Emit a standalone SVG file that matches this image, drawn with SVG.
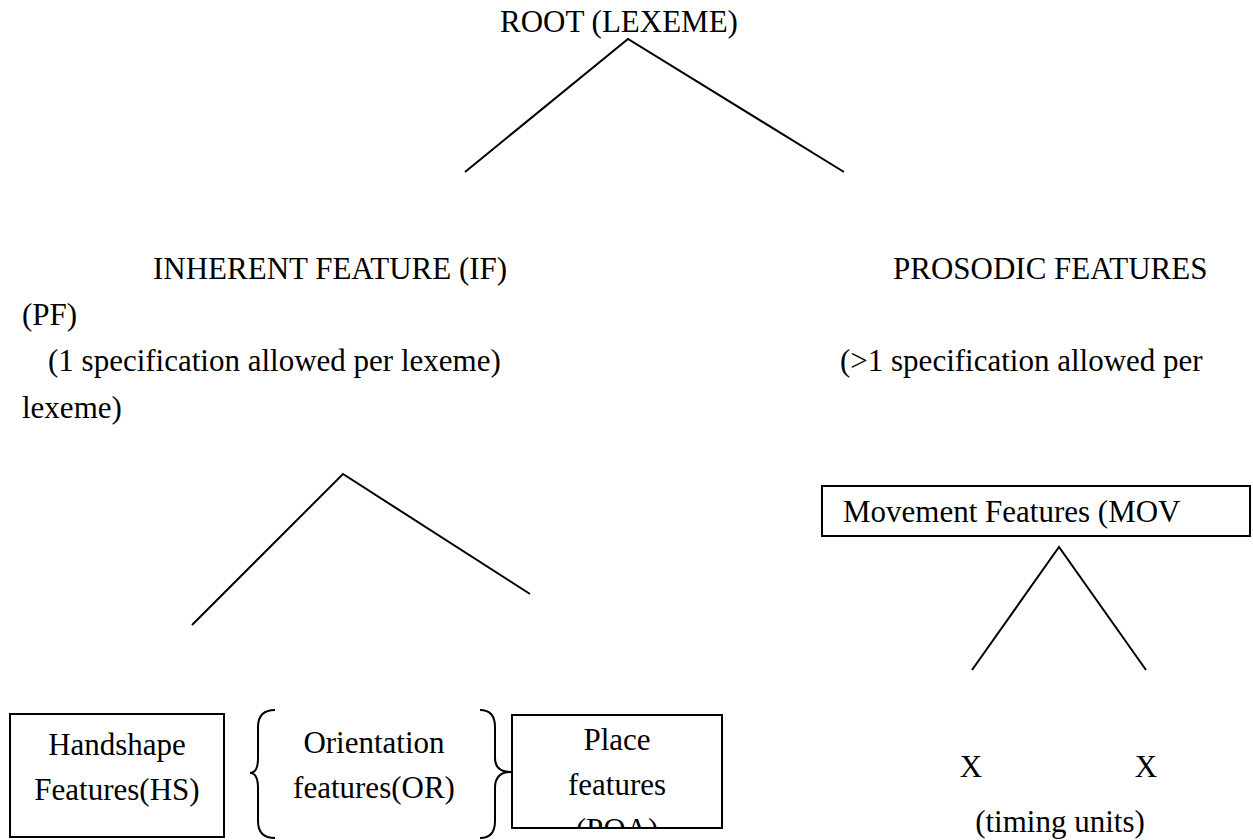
<svg xmlns="http://www.w3.org/2000/svg" width="1253" height="840" viewBox="0 0 1253 840">
<defs>
<style>
text{font-family:"Liberation Serif","Times New Roman",serif;font-size:31px;fill:#000}
.c{text-anchor:middle}
.ln{stroke:#000;stroke-width:2;fill:none}
.bx{stroke:#000;stroke-width:2;fill:#fff}
</style>
<clipPath id="poaClip"><rect x="512" y="715" width="210" height="113"/></clipPath>
</defs>
<rect width="1253" height="840" fill="#fff"/>
<g id="connectors">
<polyline class="ln" points="465,172 628,39 844,172"/>
<polyline class="ln" points="192,625 343,474 530,594"/>
<polyline class="ln" points="972,670 1059,547 1146,670"/>
</g>
<g id="root"><text x="500" y="32">ROOT (LEXEME)</text></g>
<g id="if">
<text x="153" y="279">INHERENT FEATURE (IF)</text>
<text x="48" y="371">(1 specification allowed per lexeme)</text>
</g>
<g id="pf">
<text x="893" y="279">PROSODIC FEATURES</text>
<text x="22" y="325">(PF)</text>
<text x="840" y="371">(&gt;1 specification allowed per</text>
<text x="22" y="418">lexeme)</text>
</g>
<g id="mov">
<rect class="bx" x="822" y="486" width="428" height="50"/>
<text x="843" y="522">Movement Features (MOV</text>
</g>
<g id="hs">
<rect class="bx" x="10" y="714" width="214" height="123"/>
<text class="c" x="117" y="755">Handshape</text>
<text class="c" x="117" y="800">Features(HS)</text>
</g>
<g id="or">
<path class="ln" d="M275,710 Q258,710 258,727 L258,758 Q258,773 250,773 Q258,773 258,788 L258,821 Q258,838 275,838"/>
<text class="c" x="374" y="753">Orientation</text>
<text class="c" x="374" y="798">features(OR)</text>
<path class="ln" d="M480,710 Q495,710 495,727 L495,758 Q495,772 511,772 Q495,772 495,788 L495,821 Q495,838 480,838"/>
</g>
<g id="poa">
<rect class="bx" x="512" y="715" width="210" height="113"/>
<text class="c" x="617" y="750">Place</text>
<text class="c" x="617" y="795">features</text>
<text class="c" x="617" y="840" clip-path="url(#poaClip)">(POA)</text>
</g>
<g id="timing">
<text class="c" x="971" y="777">X</text>
<text class="c" x="1146" y="777">X</text>
<text class="c" x="1060" y="832">(timing units)</text>
</g>
</svg>
